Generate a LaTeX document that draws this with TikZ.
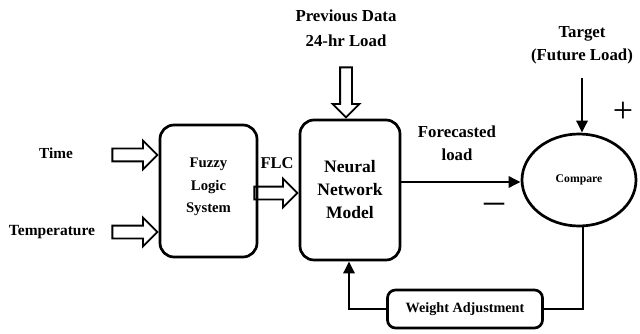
\documentclass[tikz,border=0pt]{standalone}
\usepackage{fontspec}
\setmainfont{Liberation Serif}
\usetikzlibrary{shapes.geometric,shapes.arrows,arrows.meta}
\begin{document}
\begin{tikzpicture}[x=1pt,y=-1pt,
    box/.style={draw,line width=2.7pt,rounded corners=14pt,inner sep=0pt,align=center},
    hollow/.style={draw,single arrow,line width=1.8pt,text height=5.5pt,text depth=5.5pt,single arrow head extend=8pt,single arrow head indent=0pt,inner sep=0pt},
    conn/.style={line width=2.8pt},
    tip/.style={-{Triangle[length=12pt,width=11pt]}},
    lbl/.style={font=\bfseries\fontsize{#1}{#1}\selectfont,align=center,inner sep=0pt}]
    \useasboundingbox (0,0) rectangle (640,334);
    % boxes
    \node[box,minimum width=97pt,minimum height=132pt,text depth=11pt,font=\bfseries\fontsize{14.7}{22.5}\selectfont] (fls) at (208.5,191) {Fuzzy\\Logic\\System};
    \node[box,minimum width=100pt,minimum height=140pt,font=\bfseries\fontsize{17.5}{23}\selectfont] (nn) at (350,190) {Neural\\Network\\Model};
    \node[draw,ellipse,line width=2.7pt,minimum width=114pt,minimum height=92pt,inner sep=0pt,font=\bfseries\fontsize{11.7}{14}\selectfont] (cmp) at (579,180) {Compare};
    \node[box,rounded corners=8pt,minimum width=155pt,minimum height=38pt,font=\bfseries\fontsize{14.2}{17}\selectfont] (wa) at (465,309) {Weight Adjustment};
    % labels
    \node[lbl=15.3] (tm) at (56,153) {Time};
    \node[lbl=15.5] (tp) at (52,232) {Temperature};
    \node[lbl=16.5] (flc) at (277,163) {FLC};
    \node[font=\bfseries\fontsize{16.8}{25}\selectfont,align=center,inner sep=0pt] (prev) at (346,28) {Previous Data\\24-hr Load};
    \node[font=\bfseries\fontsize{16.8}{23}\selectfont,align=center,inner sep=0pt] (tgt) at (582,45) {Target\\(Future Load)};
    \node[font=\bfseries\fontsize{16.8}{23}\selectfont,align=center,inner sep=0pt] (fc) at (457,143) {Forecasted\\load};
    \node[font=\fontsize{36}{36}\selectfont,inner sep=0pt] (plus) at (623,112) {+};
    \node[font=\fontsize{40}{40}\selectfont,inner sep=0pt] (minus) at (494,208) {–};
    % hollow arrows
    \node[hollow,minimum height=45pt,anchor=tip] at (fls.west |- 0,155) {};
    \node[hollow,minimum height=45pt,anchor=tip] at (fls.west |- 0,232) {};
    \node[hollow,minimum height=43pt,anchor=tip] at (nn.west |- 0,193) {};
    \node[hollow,minimum height=50pt,text height=5pt,text depth=5pt,single arrow head extend=7.5pt,rotate=-90,anchor=tip] at (nn.north -| prev) {};
    % connectors
    \draw[conn,tip] (nn.east |- 0,182) -- (cmp.west |- 0,182);
    \draw[conn,tip,shorten <=14pt] (tgt.south -| 582,0) -- (582,0 |- cmp.north);
    \draw[conn] (cmp.south -| 583,0) |- (wa.east);
    \draw[conn,tip] (wa.west) -| (nn.south -| 349,0);
\end{tikzpicture}
\end{document}
